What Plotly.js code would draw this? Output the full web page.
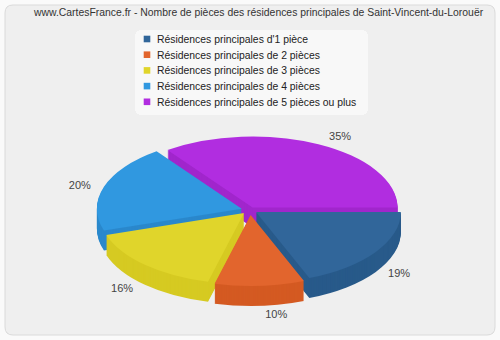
<!DOCTYPE html>
<html><head><meta charset="utf-8">
<script src="https://cdn.plot.ly/plotly-3.0.1.min.js"></script>
<style>html,body{margin:0;padding:0;background:#fafafa}</style>
</head><body><div id="chart" style="width:500px;height:340px"></div>
<script>
const categories = ["Résidences principales d'1 pièce", "Résidences principales de 2 pièces", "Résidences principales de 3 pièces", "Résidences principales de 4 pièces", "Résidences principales de 5 pièces ou plus"];
const shares = [19, 10, 16, 20, 35];
const topColors = ['#31669a', '#e2652d', '#e0d52b', '#3098e0', '#b12de0'];
const sideColors = ['#285a8a', '#d45a22', '#d6ca22', '#2a88cc', '#a126cc'];
const pulls = [0.05, 0.07, 0.06, 0.06, 0.04];
const titleText = "www.CartesFrance.fr - Nombre de pièces des résidences principales de Saint-Vincent-du-Lorouër";

const W = 500, H = 340;
const DEPTH = 20, SCALE_Y = 0.49, CY0 = 170, CYT = 210, CX = 250;
const FONT = 'Liberation Sans, Arial, sans-serif';
const domain = {x: [0.19, 0.81], y: [15 / H, 325 / H]};
const traces = [];
for (let d = DEPTH; d >= 1; d--) {
  traces.push({type: 'pie', values: shares, labels: categories, sort: false,
    direction: 'clockwise', rotation: 90, pull: pulls, domain: domain,
    marker: {colors: sideColors, line: {width: 0}}, textinfo: 'none',
    showlegend: false, hoverinfo: 'skip'});
}
traces.push({type: 'pie', values: shares, labels: categories, sort: false,
  direction: 'clockwise', rotation: 90, pull: pulls, domain: domain,
  marker: {colors: topColors, line: {width: 0}}, textinfo: 'percent',
  textposition: 'outside', outsidetextfont: {family: FONT, size: 11, color: '#444'},
  showlegend: true, hoverinfo: 'skip'});

function rr(x0, y0, x1, y1, r) {
  const px = x => (x / W).toFixed(4), py = y => (1 - y / H).toFixed(4);
  return `M${px(x0 + r)},${py(y0)} L${px(x1 - r)},${py(y0)} Q${px(x1)},${py(y0)} ${px(x1)},${py(y0 + r)} L${px(x1)},${py(y1 - r)} Q${px(x1)},${py(y1)} ${px(x1 - r)},${py(y1)} L${px(x0 + r)},${py(y1)} Q${px(x0)},${py(y1)} ${px(x0)},${py(y1 - r)} L${px(x0)},${py(y0 + r)} Q${px(x0)},${py(y0)} ${px(x0 + r)},${py(y0)} Z`;
}

const layout = {
  width: W, height: H, margin: {l: 0, r: 0, t: 0, b: 0},
  paper_bgcolor: '#fafafa',
  font: {family: FONT, size: 10.4, color: '#222'},
  title: {text: titleText, x: 34 / W, xanchor: 'left', xref: 'paper', y: 1 - 12 / H, yanchor: 'middle', yref: 'paper',
    font: {family: FONT, size: 10.4, color: '#333'}},
  legend: {x: 135 / W, xanchor: 'left', y: 1 - 30 / H, yanchor: 'top', bgcolor: '#f8f8f8', borderwidth: 0,
    font: {family: FONT, size: 10.4, color: '#222'}},
  shapes: [{type: 'path', xref: 'paper', yref: 'paper', layer: 'below', path: rr(5, 5, 495, 335, 8),
    fillcolor: '#efefef', line: {color: '#dadada', width: 1}}]
};

Plotly.newPlot('chart', traces, layout, {staticPlot: true}).then(gd => {
  const gs = gd.querySelectorAll('.pielayer g.trace');
  gs.forEach((g, i) => {
    const off = i < DEPTH ? DEPTH - i : 0;
    const tf = `translate(0,${CYT + off}) scale(1,${SCALE_Y}) translate(0,${-CY0})`;
    if (i < DEPTH) { g.setAttribute('transform', tf); return; }
    g.querySelectorAll('path.surface').forEach(p => p.setAttribute('transform', tf));
    g.querySelectorAll('g.slicetext text').forEach(t => {
      const r = t.getBoundingClientRect();
      const tx = r.left + r.width / 2, ty = r.top + r.height / 2;
      let ny = CYT + (ty - CY0) * SCALE_Y + (ty > CY0 ? DEPTH * 0.8 : 0);
      const dx = tx - CX, dy = ny - CYT, len = Math.hypot(dx, dy) || 1;
      const nx = tx + dx / len * 10;
      ny = ny + dy / len * 10;
      t.setAttribute('transform', `translate(${nx - tx},${ny - ty}) ` + (t.getAttribute('transform') || ''));
    });
  });
  // compact legend like the reference
  const leg = gd.querySelector('g.legend');
  if (leg) {
    leg.querySelectorAll('g.traces').forEach((it, i) => {
      it.setAttribute('transform', `translate(0,${9 + i * 15.7})`);
      const txt = it.querySelector('text.legendtext');
      if (txt) txt.setAttribute('x', 22);
      it.querySelectorAll('path.legendpie').forEach(p => p.setAttribute('transform', 'translate(12,0) scale(0.55)'));
    });
    const bg = leg.querySelector('rect.bg');
    if (bg) { bg.setAttribute('x', 0); bg.setAttribute('y', 0); bg.setAttribute('width', 233); bg.setAttribute('height', 85); bg.setAttribute('rx', 6); bg.setAttribute('ry', 6); }
  }
});
</script></body></html>
